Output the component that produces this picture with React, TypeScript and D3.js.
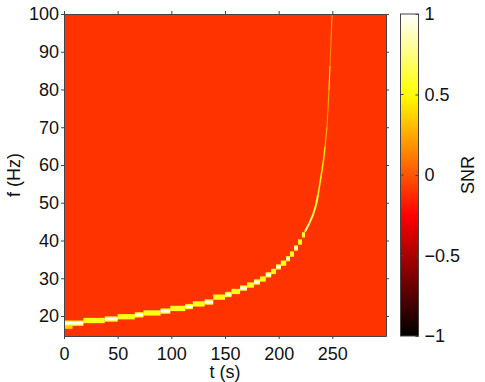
// Time-frequency SNR map with a chirp track
import React, { useEffect, useRef } from "react";
import * as d3 from "d3";

const timeTicks = [0, 50, 100, 150, 200, 250];
const freqTicks = [20, 30, 40, 50, 60, 70, 80, 90, 100];
const snrTicks = [1, 0.5, 0, -0.5, -1];
const backgroundSnr = -0.1;

// stair part of the track: each block runs from stepStart[i] to stepStart[i + 1]
const stepStart = [0, 18, 38, 50, 66, 74, 90, 99, 113, 120, 131, 139, 150, 156, 164, 170.5, 177, 182.6, 188, 193, 197.5, 202, 207, 210.5, 214.3, 218, 221.7, 224.5];
const stepFreq = [18.1, 18.8, 19.2, 19.8, 20.3, 20.8, 21.3, 22, 22.5, 23.2, 23.7, 25, 25.7, 26.5, 27.4, 28.2, 29, 29.8, 30.9, 31.8, 33, 34, 35.2, 36.4, 38, 39.6, 41.5];
const stepSnr = [1, 0.6, 1, 0.6, 1, 0.6, 1, 0.6, 1, 0.6, 1, 0.6, 1, 0.7, 1, 0.7, 1, 0.7, 1, 0.7, 1, 0.7, 1, 0.7, 1, 0.7, 0.7];

// steep part of the track
const sweepTime = [224.5, 228.3, 232, 234.8, 236.7, 238.5, 240.4, 242.2, 243.2, 244.1, 245, 246, 246.9, 247.8, 248.8, 249.7];
const sweepFreq = [42.3, 44.4, 46.8, 49.4, 52.1, 55.2, 58.7, 62.1, 64.8, 67.4, 70.1, 75.1, 79.9, 86.2, 93.1, 100];
const sweepSnr = [0.75, 0.7, 0.65, 0.6, 0.55, 0.5, 0.45, 0.4, 0.35, 0.3, 0.2, 0.25, 0.5, 0.15, 0.25, 0.2];

const FONT = '"Liberation Sans", Arial, sans-serif';
const AXIS = "#444";

// matlab style "hot" map over -1..1
const hot = (v: number) => {
  const u = (v + 1) / 2;
  const r = Math.min(1, u / 0.375);
  const g = Math.max(0, Math.min(1, (u - 0.375) / 0.375));
  const b = Math.max(0, (u - 0.75) / 0.25);
  return d3.rgb(r * 255, g * 255, b * 255).formatHex();
};

export default function App() {
  const ref = useRef<SVGSVGElement>(null);

  useEffect(() => {
    const svg = d3.select(ref.current);
    svg.selectAll("*").remove();

    const margin = { top: 14, right: 99, bottom: 46, left: 64 };
    const width = 485 - margin.left - margin.right;
    const height = 382 - margin.top - margin.bottom;

    const x = d3.scaleLinear().domain([0, 300]).range([0, width]);
    const y = d3.scaleLinear().domain([14.7, 100]).range([height, 0]);

    const defs = svg.append("defs");
    defs.append("clipPath").attr("id", "plot-clip").append("rect").attr("width", width).attr("height", height);
    defs.append("filter").attr("id", "soft").append("feGaussianBlur").attr("stdDeviation", 0.7);
    defs.append("filter").attr("id", "softer").append("feGaussianBlur").attr("stdDeviation", 0.3);
    const grad = defs.append("linearGradient").attr("id", "hot-bar").attr("x1", 0).attr("x2", 0).attr("y1", 1).attr("y2", 0);
    d3.range(-1, 1.001, 0.05).forEach((v) => {
      grad.append("stop").attr("offset", (v + 1) / 2).attr("stop-color", hot(v));
    });

    const g = svg.append("g").attr("transform", `translate(${margin.left},${margin.top})`);
    const plot = g.append("g").attr("clip-path", "url(#plot-clip)");

    // background
    plot.append("rect").attr("width", width).attr("height", height).attr("fill", hot(backgroundSnr));

    // faint bin under the first block
    plot
      .append("rect")
      .attr("x", x(0))
      .attr("width", x(8))
      .attr("y", y(17.4))
      .attr("height", y(16.6) - y(17.4))
      .attr("fill", hot(0.35))
      .attr("filter", "url(#soft)");

    // yellow halo, then the hotter core
    const steps = stepFreq.map((f, i) => ({ t0: stepStart[i], t1: stepStart[i + 1], f, snr: stepSnr[i] }));
    plot
      .append("g")
      .attr("filter", "url(#soft)")
      .selectAll("rect")
      .data(steps)
      .join("rect")
      .attr("x", (d) => x(d.t0))
      .attr("width", (d) => x(d.t1) - x(d.t0))
      .attr("y", (d) => y(d.f + 0.7))
      .attr("height", y(0) - y(1.4))
      .attr("fill", hot(0.55));
    plot
      .append("g")
      .attr("filter", "url(#softer)")
      .selectAll("rect")
      .data(steps.filter((d) => d.snr > 0.75))
      .join("rect")
      .attr("x", (d) => x(d.t0))
      .attr("width", (d) => x(d.t1) - x(d.t0))
      .attr("y", (d) => y(d.f + 0.35))
      .attr("height", y(0) - y(0.7))
      .attr("fill", hot(1));

    // steep part
    plot
      .append("g")
      .attr("filter", "url(#softer)")
      .selectAll("path")
      .data(sweepTime.slice(1))
      .join("path")
      .attr("d", (_, i) => `M${x(sweepTime[i])},${y(sweepFreq[i])}L${x(sweepTime[i + 1])},${y(sweepFreq[i + 1])}`)
      .attr("fill", "none")
      .attr("stroke", (_, i) => hot(sweepSnr[i]))
      .attr("stroke-width", (_, i) => (i < 4 ? 2 : i < 8 ? 1.5 : 1.1));

    // axes, ticks stick out on all four sides
    const styleAxis = (sel: any, fs: number) => {
      sel.selectAll(".domain").attr("stroke", AXIS);
      sel.selectAll(".tick line").attr("stroke", AXIS);
      sel.selectAll("text").attr("font-family", FONT).attr("font-size", fs).attr("fill", "#111");
    };
    const bottom = g.append("g").attr("transform", `translate(0,${height})`)
      .call(d3.axisBottom(x).tickValues(timeTicks).tickFormat(d3.format("d")).tickSize(3).tickSizeOuter(0).tickPadding(8));
    const left = g.append("g")
      .call(d3.axisLeft(y).tickValues(freqTicks).tickFormat(d3.format("d")).tickSize(3).tickSizeOuter(0).tickPadding(2));
    const top = g.append("g").call(d3.axisTop(x).tickValues(timeTicks).tickFormat(() => "").tickSize(3).tickSizeOuter(0));
    const right = g.append("g").attr("transform", `translate(${width},0)`)
      .call(d3.axisRight(y).tickValues(freqTicks).tickFormat(() => "").tickSize(3).tickSizeOuter(0));
    [bottom, left, top, right].forEach((a) => styleAxis(a, 18));

    // colorbar
    const barX = 336.5;
    const barW = 18;
    const snrY = d3.scaleLinear().domain([-1, 1]).range([height, 0]);
    const bar = g.append("g").attr("transform", `translate(${barX},0)`);
    bar.append("rect").attr("width", barW).attr("height", height).attr("fill", "url(#hot-bar)").attr("stroke", AXIS);
    const barAxis = bar.append("g").attr("transform", `translate(${barW},0)`)
      .call(
        d3.axisRight(snrY).tickValues(snrTicks)
          .tickFormat((d) => d3.format("")(d as number).replace("-", "\u2212"))
          .tickSize(-3).tickSizeOuter(0).tickPadding(6)
      );
    styleAxis(barAxis, 18);
    barAxis.selectAll(".domain").remove();
    bar.append("g")
      .selectAll("line")
      .data(snrTicks.slice(1, -1))
      .join("line")
      .attr("x1", 0)
      .attr("x2", 3)
      .attr("y1", (d) => snrY(d))
      .attr("y2", (d) => snrY(d))
      .attr("stroke", AXIS);

    // labels
    g.append("text")
      .attr("x", x(150))
      .attr("y", 378 - margin.top)
      .attr("text-anchor", "middle")
      .attr("font-family", FONT)
      .attr("font-size", 18)
      .attr("fill", "#111")
      .text("t (s)");
    svg.append("text")
      .attr("transform", "translate(20,175) rotate(-90)")
      .attr("text-anchor", "middle")
      .attr("font-family", FONT)
      .attr("font-size", 18)
      .attr("fill", "#111")
      .text("f (Hz)");
    svg.append("text")
      .attr("transform", "translate(474,175) rotate(-90)")
      .attr("text-anchor", "middle")
      .attr("font-family", FONT)
      .attr("font-size", 18)
      .attr("fill", "#111")
      .text("SNR");
  }, []);

  return <svg ref={ref} width={485} height={382} style={{ position: "absolute", left: 0, top: 0 }} />;
}
